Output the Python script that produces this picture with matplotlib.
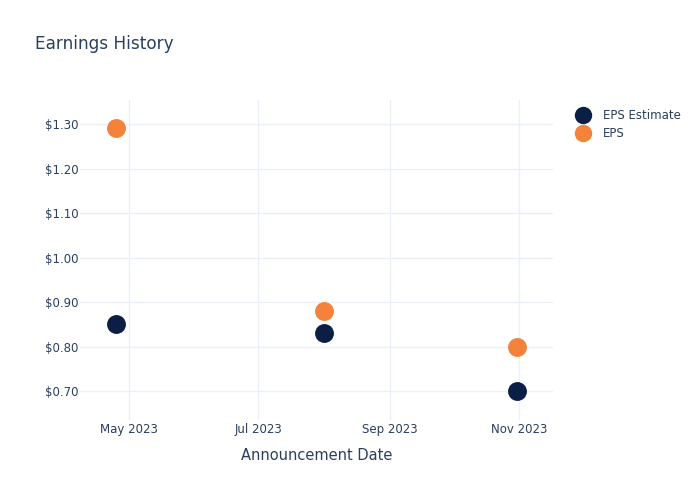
import matplotlib
matplotlib.use("Agg")
import matplotlib.pyplot as plt
import matplotlib.dates as mdates
from matplotlib.ticker import FuncFormatter
from matplotlib.lines import Line2D
import numpy as np
import datetime as dt

dates = ["2023-04-25", "2023-08-01", "2023-10-31"]
eps_estimate = [0.85, 0.83, 0.70]
eps_actual = [1.29, 0.88, 0.80]
series_names = ["EPS Estimate", "EPS"]
title = "Earnings History"
xlabel = "Announcement Date"

navy = "#0b1f44"
orange = "#f5823a"
textc = "#2a3f5f"
gridc = "#ebf0f8"

x = [dt.datetime.strptime(d, "%Y-%m-%d") for d in dates]

fig = plt.figure(figsize=(7, 5), dpi=100)
ax = fig.add_axes([80/700, 1-420/500, (553-80)/700, 320/500])

ax.scatter(x, eps_estimate, s=185, color=navy, zorder=3, linewidths=0)
ax.scatter(x, eps_actual, s=185, color=orange, zorder=3, linewidths=0)

ax.set_xlim(dt.datetime(2023, 4, 8), dt.datetime(2023, 11, 17))
ax.set_ylim(0.635, 1.354)
ax.set_yticks(np.arange(0.7, 1.31, 0.1))
ax.yaxis.set_major_formatter(FuncFormatter(lambda v, p: f"${v:.2f}"))
ax.xaxis.set_major_locator(mdates.MonthLocator(bymonth=[5, 7, 9, 11]))
ax.xaxis.set_major_formatter(mdates.DateFormatter("%b %Y"))

for s in ax.spines.values():
    s.set_visible(False)
ax.grid(True, color=gridc, linewidth=1)
ax.set_axisbelow(True)
ax.tick_params(length=0, labelsize=8.5, labelcolor=textc)
ax.tick_params(axis='x', pad=2)
ax.tick_params(axis='y', pad=1)
ax.set_xlabel(xlabel, fontsize=10.5, color=textc, labelpad=9)

fig.text(35/700, 1-44/500, title, fontsize=12.2, color=textc, va="center", ha="left")

handles = [Line2D([0], [0], marker='o', linestyle='', markersize=11.5, color=navy),
           Line2D([0], [0], marker='o', linestyle='', markersize=11.5, color=orange)]
leg = fig.legend(handles, series_names, loc="upper left", bbox_to_anchor=(570/700, 1-103/500),
                 frameon=False, fontsize=8.5, handletextpad=1.1, labelspacing=0.45,
                 borderpad=0, handlelength=1.2)
for t in leg.get_texts():
    t.set_color(textc)

fig.savefig("out.png", dpi=100)
